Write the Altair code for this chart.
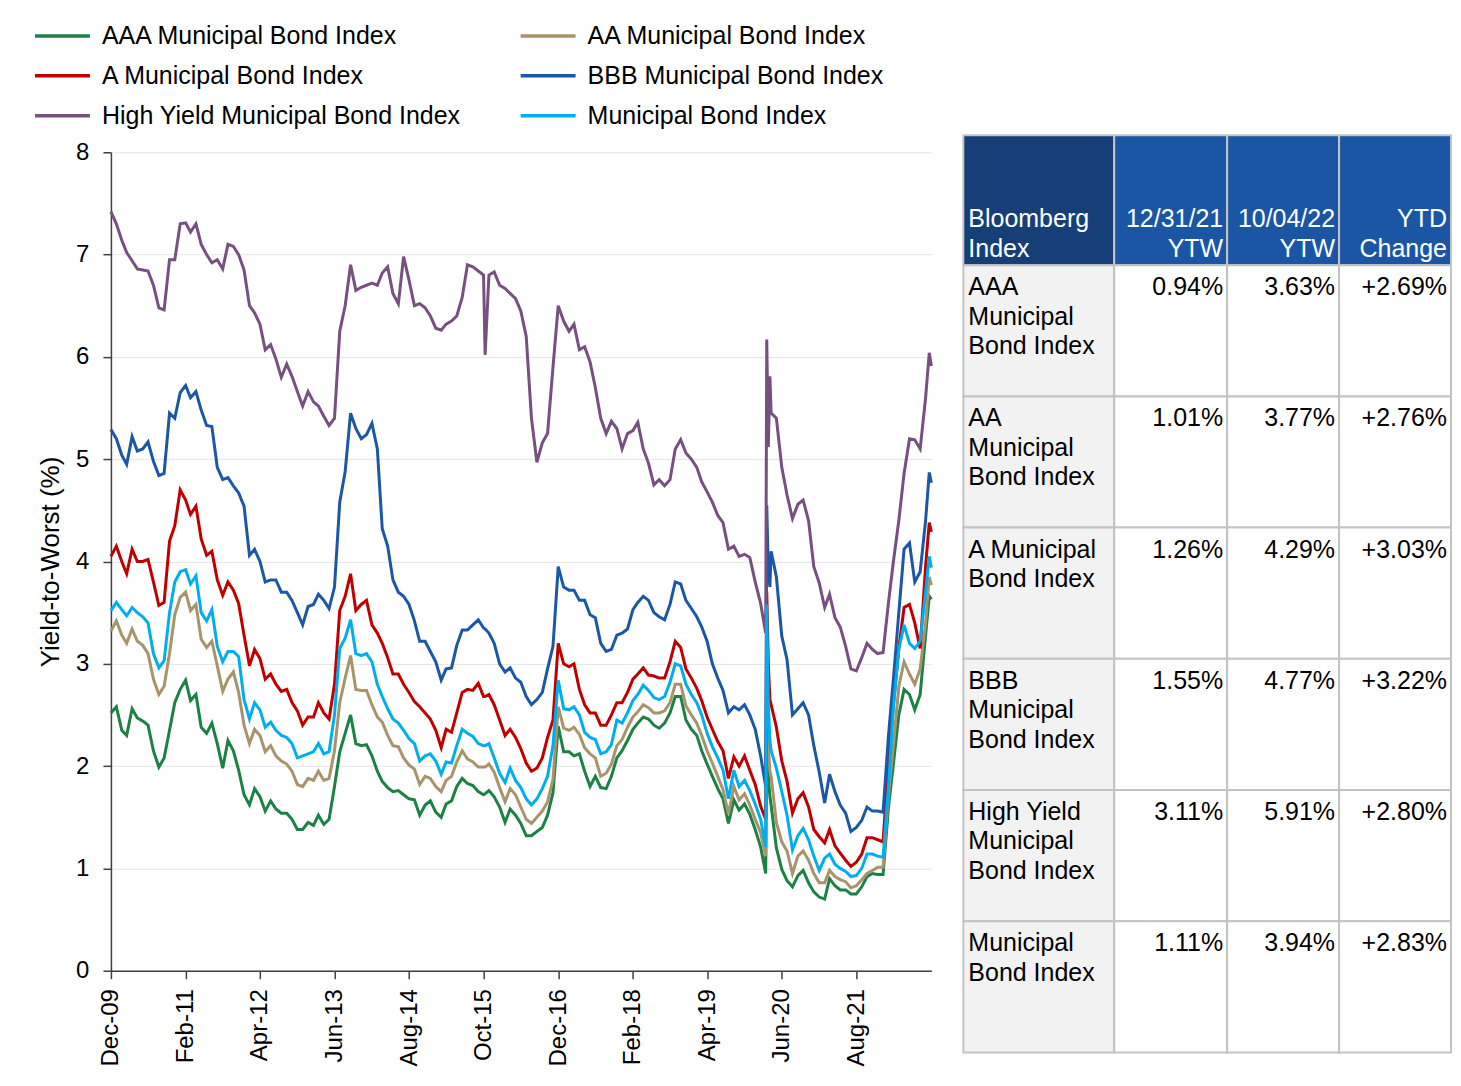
import altair as alt
import pandas as pd

FONT = "Liberation Sans"

# ---------------- data ----------------
series_names = [
    "AAA Municipal Bond Index",
    "AA Municipal Bond Index",
    "A Municipal Bond Index",
    "BBB Municipal Bond Index",
    "High Yield Municipal Bond Index",
    "Municipal Bond Index",
]
series_colors = ["#1B8145", "#A8946A", "#C00000", "#1B57A6", "#76507F", "#00AEEF"]

# monthly observations: first of each month from Dec-2009, plus the final 10/04/22 print
first_month = "2009-12-01"
n_months = 154
last_date = "2022-10-04"

aaa = [2.52, 2.58, 2.35, 2.30, 2.56, 2.47, 2.44, 2.40, 2.15, 1.99,
       2.08, 2.35, 2.62, 2.75, 2.84, 2.64, 2.70, 2.38, 2.32, 2.42,
       2.22, 1.98, 2.25, 2.15, 1.96, 1.72, 1.62, 1.78, 1.70, 1.56,
       1.66, 1.58, 1.54, 1.54, 1.48, 1.38, 1.38, 1.45, 1.42, 1.52,
       1.43, 1.48, 1.80, 2.14, 2.32, 2.50, 2.22, 2.20, 2.21, 2.10,
       1.95, 1.85, 1.79, 1.75, 1.76, 1.72, 1.68, 1.67, 1.52, 1.62,
       1.66, 1.55, 1.50, 1.63, 1.66, 1.80, 1.88, 1.83, 1.81, 1.75,
       1.72, 1.76, 1.70, 1.60, 1.45, 1.58, 1.52, 1.44, 1.32, 1.32,
       1.36, 1.40, 1.52, 1.74, 2.39, 2.14, 2.14, 2.10, 2.12, 1.95,
       1.80, 1.90, 1.79, 1.78, 1.90, 2.08, 2.15, 2.25, 2.36, 2.42,
       2.48, 2.46, 2.40, 2.37, 2.42, 2.52, 2.68, 2.68, 2.45, 2.36,
       2.30, 2.15, 2.02, 1.90, 1.78, 1.68, 1.44, 1.67, 1.57, 1.63,
       1.53, 1.38, 1.21, 0.95, 1.62, 1.20, 0.99, 0.88, 0.82, 0.93,
       0.98, 0.86, 0.77, 0.72, 0.70, 0.90, 0.83, 0.79, 0.79, 0.75,
       0.75, 0.82, 0.92, 0.95, 0.94, 0.94, 1.60, 2.02, 2.50, 2.75,
       2.70, 2.55, 2.70, 3.28, 3.63]

aa = [3.32, 3.42, 3.28, 3.20, 3.34, 3.22, 3.18, 3.10, 2.85, 2.70,
      2.78, 3.10, 3.48, 3.65, 3.70, 3.52, 3.58, 3.24, 3.16, 3.22,
      2.98, 2.73, 2.85, 2.92, 2.72, 2.40, 2.22, 2.36, 2.30, 2.14,
      2.20, 2.10, 2.05, 2.02, 1.95, 1.82, 1.80, 1.88, 1.86, 1.95,
      1.86, 1.88, 2.15, 2.62, 2.86, 3.08, 2.75, 2.74, 2.74, 2.60,
      2.48, 2.43, 2.30, 2.20, 2.19, 2.08, 2.01, 1.97, 1.82, 1.90,
      1.88, 1.80, 1.75, 1.86, 1.90, 2.04, 2.15, 2.07, 2.04, 1.99,
      1.99, 2.02, 1.94, 1.79, 1.65, 1.78, 1.72, 1.60, 1.48, 1.44,
      1.50, 1.56, 1.65, 1.87, 2.58, 2.37, 2.35, 2.38, 2.31, 2.18,
      2.12, 2.08, 1.90, 1.93, 2.02, 2.20, 2.26, 2.38, 2.48, 2.53,
      2.60, 2.57, 2.52, 2.52, 2.54, 2.62, 2.80, 2.80, 2.59, 2.50,
      2.42, 2.30, 2.15, 2.03, 1.90, 1.77, 1.53, 1.80, 1.67, 1.73,
      1.62, 1.48, 1.35, 1.12, 1.90, 1.45, 1.26, 1.17, 0.95, 1.12,
      1.17, 1.08, 0.95, 0.86, 0.86, 0.98, 0.92, 0.89, 0.87, 0.81,
      0.83, 0.89, 0.95, 0.98, 1.01, 1.01, 1.72, 2.20, 2.78, 3.02,
      2.90, 2.80, 2.95, 3.40, 3.77]

a_rated = [4.05, 4.15, 4.00, 3.88, 4.12, 4.00, 4.00, 4.02, 3.80, 3.57,
           3.60, 4.20, 4.35, 4.70, 4.60, 4.46, 4.54, 4.22, 4.06, 4.10,
           3.82, 3.67, 3.80, 3.72, 3.59, 3.28, 2.98, 3.14, 3.05, 2.85,
           2.90, 2.80, 2.73, 2.75, 2.62, 2.54, 2.40, 2.48, 2.48, 2.62,
           2.52, 2.46, 2.80, 3.52, 3.66, 3.88, 3.52, 3.58, 3.62, 3.38,
           3.30, 3.20, 3.06, 2.90, 2.90, 2.80, 2.72, 2.63, 2.58, 2.52,
           2.46, 2.35, 2.18, 2.36, 2.33, 2.52, 2.72, 2.75, 2.74, 2.81,
           2.68, 2.70, 2.60, 2.45, 2.30, 2.36, 2.28, 2.17, 2.03, 1.95,
           1.98, 2.08, 2.28, 2.45, 3.20, 3.00, 2.97, 3.00, 2.75, 2.60,
           2.52, 2.52, 2.40, 2.40, 2.50, 2.62, 2.62, 2.72, 2.85, 2.90,
           2.96, 2.89, 2.88, 2.86, 2.86, 3.02, 3.22, 3.16, 2.95, 2.86,
           2.76, 2.64, 2.48, 2.36, 2.24, 2.15, 1.88, 2.09, 2.00, 2.10,
           1.96, 1.82, 1.61, 1.48, 2.60, 2.38, 2.05, 1.85, 1.54, 1.68,
           1.74, 1.60, 1.38, 1.31, 1.25, 1.38, 1.22, 1.15, 1.08, 1.02,
           1.06, 1.14, 1.30, 1.30, 1.28, 1.26, 2.05, 2.60, 3.15, 3.55,
           3.58, 3.40, 3.15, 3.95, 4.29]

bbb = [5.29, 5.20, 5.04, 4.95, 5.22, 5.08, 5.10, 5.17, 4.98, 4.84,
       4.86, 5.45, 5.40, 5.65, 5.72, 5.60, 5.66, 5.48, 5.33, 5.32,
       4.92, 4.80, 4.82, 4.74, 4.67, 4.54, 4.06, 4.12, 4.00, 3.80,
       3.82, 3.82, 3.70, 3.70, 3.62, 3.50, 3.38, 3.56, 3.58, 3.68,
       3.62, 3.54, 3.75, 4.58, 4.88, 5.45, 5.30, 5.20, 5.24, 5.35,
       5.10, 4.32, 4.15, 3.82, 3.70, 3.66, 3.58, 3.42, 3.22, 3.22,
       3.12, 3.02, 2.84, 2.95, 2.96, 3.18, 3.33, 3.33, 3.38, 3.43,
       3.35, 3.30, 3.20, 3.00, 2.92, 2.96, 2.86, 2.82, 2.68, 2.60,
       2.65, 2.72, 2.95, 3.17, 3.95, 3.75, 3.72, 3.72, 3.62, 3.62,
       3.48, 3.45, 3.20, 3.12, 3.14, 3.28, 3.30, 3.34, 3.53, 3.60,
       3.66, 3.62, 3.50, 3.46, 3.43, 3.58, 3.80, 3.78, 3.62, 3.54,
       3.46, 3.36, 3.22, 3.00, 2.86, 2.74, 2.52, 2.58, 2.55, 2.60,
       2.50, 2.36, 2.10, 1.80, 4.10, 3.85, 3.27, 3.04, 2.50, 2.56,
       2.62, 2.50, 2.20, 1.94, 1.64, 1.92, 1.75, 1.62, 1.54, 1.36,
       1.40, 1.47, 1.60, 1.56, 1.56, 1.55, 2.30, 2.85, 3.50, 4.12,
       4.18, 3.80, 3.90, 4.40, 4.77]

hy = [7.42, 7.30, 7.14, 7.02, 6.94, 6.86, 6.85, 6.84, 6.70, 6.48,
      6.46, 6.95, 6.95, 7.30, 7.31, 7.22, 7.30, 7.10, 7.00, 6.92,
      6.95, 6.86, 7.10, 7.08, 7.00, 6.85, 6.50, 6.43, 6.32, 6.07,
      6.12, 5.98, 5.80, 5.93, 5.81, 5.66, 5.52, 5.66, 5.56, 5.52,
      5.42, 5.33, 5.40, 6.25, 6.50, 6.90, 6.65, 6.68, 6.70, 6.72,
      6.70, 6.82, 6.88, 6.62, 6.52, 6.98, 6.75, 6.50, 6.52, 6.48,
      6.40, 6.28, 6.26, 6.32, 6.35, 6.40, 6.58, 6.90, 6.88, 6.84,
      6.80, 6.80, 6.83, 6.70, 6.67, 6.62, 6.57, 6.45, 6.20, 5.40,
      4.97, 5.16, 5.25, 5.90, 6.50, 6.35, 6.25, 6.32, 6.07, 6.10,
      5.95, 5.70, 5.40, 5.25, 5.37, 5.30, 5.10, 5.25, 5.28, 5.36,
      5.10, 4.96, 4.75, 4.80, 4.74, 4.80, 5.10, 5.19, 5.06, 5.00,
      4.92, 4.78, 4.68, 4.58, 4.45, 4.38, 4.12, 4.15, 4.05, 4.07,
      4.04, 3.80, 3.59, 3.30, 5.45, 5.40, 4.92, 4.65, 4.42, 4.56,
      4.60, 4.40, 3.95, 3.79, 3.55, 3.68, 3.45, 3.36, 3.17, 2.95,
      2.93, 3.06, 3.20, 3.14, 3.10, 3.11, 3.60, 4.00, 4.40, 4.86,
      5.20, 5.19, 5.10, 5.60, 5.91]

muni = [3.52, 3.60, 3.53, 3.47, 3.55, 3.50, 3.46, 3.40, 3.10, 2.96,
        3.03, 3.50, 3.80, 3.90, 3.92, 3.78, 3.86, 3.50, 3.42, 3.53,
        3.17, 3.02, 3.12, 3.12, 3.07, 2.65, 2.46, 2.62, 2.55, 2.38,
        2.43, 2.35, 2.30, 2.28, 2.22, 2.08, 2.10, 2.12, 2.14, 2.22,
        2.12, 2.14, 2.50, 3.15, 3.25, 3.43, 3.10, 3.08, 3.10, 3.02,
        2.80, 2.68, 2.56, 2.46, 2.42, 2.35, 2.27, 2.22, 2.05, 2.10,
        2.12, 2.05, 1.92, 2.04, 2.03, 2.20, 2.36, 2.32, 2.29, 2.22,
        2.20, 2.22, 2.08, 1.93, 1.84, 1.98, 1.86, 1.79, 1.68, 1.62,
        1.68, 1.78, 1.90, 2.20, 2.84, 2.56, 2.55, 2.58, 2.50, 2.33,
        2.28, 2.26, 2.12, 2.14, 2.21, 2.45, 2.42, 2.52, 2.64, 2.70,
        2.79, 2.74, 2.67, 2.65, 2.68, 2.82, 3.00, 2.98, 2.80, 2.70,
        2.62, 2.50, 2.32, 2.19, 2.08, 1.96, 1.68, 1.96, 1.80, 1.86,
        1.76, 1.63, 1.48, 1.21, 2.15, 1.98, 1.75, 1.52, 1.18, 1.32,
        1.39, 1.28, 1.12, 0.98, 1.10, 1.14, 1.04, 1.00, 0.97, 0.92,
        0.93, 1.00, 1.14, 1.14, 1.12, 1.11, 1.80, 2.58, 3.14, 3.38,
        3.20, 3.15, 3.22, 3.70, 3.94]

# short-lived moves between month starts (Oct-15 HY print, Mar-20 selloff, Sep-22 high)
event_dates = ["2015-10-10", "2020-03-07", "2020-03-16", "2020-03-25", "2022-09-22"]
aaa_events = [1.73, 2.35, 1.90, 1.70, 3.66]
aa_events = [1.99, 2.70, 2.20, 1.95, 3.85]
a_events = [2.68, 3.70, 3.00, 2.65, 4.38]
bbb_events = [3.34, 4.55, 3.90, 3.75, 4.87]
hy_events = [6.02, 6.17, 5.12, 5.81, 6.04]
muni_events = [2.20, 3.58, 2.60, 2.25, 4.05]

x_tick_dates = ["2009-12-01", "2011-02-01", "2012-04-01", "2013-06-01", "2014-08-01",
                "2015-10-01", "2016-12-01", "2018-02-01", "2019-04-01", "2020-06-01",
                "2021-08-01"]

# legend reading order (two columns, filled column by column)
legend_order = [
    "AAA Municipal Bond Index",
    "A Municipal Bond Index",
    "High Yield Municipal Bond Index",
    "AA Municipal Bond Index",
    "BBB Municipal Bond Index",
    "Municipal Bond Index",
]

# table
table_headers = ["Bloomberg\nIndex", "12/31/21\nYTW", "10/04/22\nYTW", "YTD\nChange"]
table_index_labels = ["AAA\nMunicipal\nBond Index", "AA\nMunicipal\nBond Index",
                      "A Municipal\nBond Index", "BBB\nMunicipal\nBond Index",
                      "High Yield\nMunicipal\nBond Index", "Municipal\nBond Index"]
ytw_start = [0.94, 1.01, 1.26, 1.55, 3.11, 1.11]
ytw_end = [3.63, 3.77, 4.29, 4.77, 5.91, 3.94]
ytd_change = [2.69, 2.76, 3.03, 3.22, 2.80, 2.83]

# ---------------- build frames ----------------
month_dates = [d.strftime("%Y-%m-%dT00:00:00")
               for d in pd.date_range(first_month, periods=n_months, freq="MS")]
month_dates.append(last_date + "T00:00:00")
ev_dates = [d + "T00:00:00" for d in event_dates]

series_values = [aaa, aa, a_rated, bbb, hy, muni]
series_events = [aaa_events, aa_events, a_events, bbb_events, hy_events, muni_events]

rows = []
for name, vals, evs in zip(series_names, series_values, series_events):
    for d, v in zip(month_dates + ev_dates, vals + evs):
        rows.append({"date": d, "series": name, "value": v})
df = pd.DataFrame(rows)


def dt(s):
    y, m, d = (int(p) for p in s.split("-"))
    return alt.DateTime(year=y, month=m, date=d)


color_of = dict(zip(series_names, series_colors))
color_scale = alt.Scale(domain=legend_order, range=[color_of[n] for n in legend_order])

x_enc = alt.X(
    "date:T",
    scale=alt.Scale(domain=[dt(first_month), dt(last_date)], nice=False),
    axis=alt.Axis(
        values=[dt(s) for s in x_tick_dates], format="%b-%y", labelAngle=270,
        labelFontSize=24, labelFont=FONT, labelColor="black", labelPadding=10,
        tickSize=8, tickColor="#404040", tickWidth=1.5,
        domainColor="#404040", domainWidth=1.5, grid=False, title=None,
        labelOverlap=False,
    ),
)
y_enc = alt.Y(
    "value:Q",
    scale=alt.Scale(domain=[0, 8], nice=False),
    axis=alt.Axis(
        values=list(range(0, 9)), title="Yield-to-Worst (%)",
        titleFontSize=26, titleFont=FONT, titleFontWeight="normal", titleColor="black",
        titlePadding=12, labelFontSize=24, labelFont=FONT, labelColor="black",
        labelPadding=14, tickSize=8, tickColor="#404040", tickWidth=1.5,
        domainColor="#404040", domainWidth=1.5, gridColor="#E6E6E6", gridWidth=1,
    ),
)

# a wide line symbol drawn at small nominal size so the legend rows stay compact
legend = alt.Legend(
    title=None, orient="none", legendX=-64, legendY=-132, columns=2,
    symbolType="M-2,0H2", symbolSize=756, symbolStrokeWidth=3.5,
    labelFontSize=25, labelFont=FONT, labelColor="black", labelOffset=24,
    rowPadding=11, columnPadding=52, labelLimit=0, padding=0,
)

layers = []
for name in series_names:
    layers.append(
        alt.Chart(df)
        .transform_filter(alt.datum.series == name)
        .mark_line(strokeWidth=3)
        .encode(x=x_enc, y=y_enc,
                color=alt.Color("series:N", scale=color_scale, legend=legend))
    )
line_chart = alt.layer(*layers).properties(width=821, height=819)

# ---------------- table ----------------
col_edges = [0, 151, 264, 376, 488]
header_h = 130
row_h = 131.3
header_fills = ["#163F78", "#1B56A4", "#1B56A4", "#1B56A4"]

cells, head_txt, body_left, body_right = [], [], [], []
for c in range(4):
    cells.append({"x0": col_edges[c], "x1": col_edges[c + 1], "y0": 0, "y1": header_h,
                  "fill": header_fills[c]})
    head_txt.append({"x": col_edges[c] + 5 if c == 0 else col_edges[c + 1] - 4,
                     "y": 92, "t": table_headers[c], "al": "left" if c == 0 else "right"})
for r in range(len(table_index_labels)):
    top = header_h + r * row_h
    for c in range(4):
        cells.append({"x0": col_edges[c], "x1": col_edges[c + 1], "y0": top,
                      "y1": top + row_h, "fill": "#F2F2F2" if c == 0 else "#FFFFFF"})
    body_left.append({"x": col_edges[0] + 5, "y": top + 30, "t": table_index_labels[r]})
    vals = [f"{ytw_start[r]:.2f}%", f"{ytw_end[r]:.2f}%", f"+{ytd_change[r]:.2f}%"]
    for c in range(1, 4):
        body_right.append({"x": col_edges[c + 1] - 4, "y": top + 30, "t": vals[c - 1]})

tx = alt.Scale(domain=[0, 488], nice=False, zero=False)
ty = alt.Scale(domain=[17, 918], nice=False, zero=False, reverse=True)

rects = alt.Chart(pd.DataFrame(cells)).mark_rect(stroke="#C3C3C3", strokeWidth=2).encode(
    x=alt.X("x0:Q", scale=tx, axis=None), x2="x1:Q",
    y=alt.Y("y0:Q", scale=ty, axis=None), y2="y1:Q",
    fill=alt.Fill("fill:N", scale=None),
)


def text_layer(data, align, color):
    return alt.Chart(pd.DataFrame(data)).mark_text(
        align=align, baseline="alphabetic", lineBreak="\n", lineHeight=29.5,
        fontSize=25, font=FONT, color=color,
    ).encode(
        x=alt.X("x:Q", scale=tx, axis=None),
        y=alt.Y("y:Q", scale=ty, axis=None),
        text="t:N",
    )


head_left = text_layer([h for h in head_txt if h["al"] == "left"], "left", "white")
head_right = text_layer([h for h in head_txt if h["al"] == "right"], "right", "white")
t_left = text_layer(body_left, "left", "black")
t_right = text_layer(body_right, "right", "black")

table_chart = alt.layer(rects, head_left, head_right, t_left, t_right).properties(
    width=488, height=901)

chart = (
    alt.hconcat(line_chart, table_chart, spacing=32, bounds="flush")
    .properties(padding={"left": 29, "top": 12, "right": 0, "bottom": 0})
    .configure_view(stroke="transparent")
)

chart.save("out.html", embed_options={"renderer": "svg", "actions": False})
